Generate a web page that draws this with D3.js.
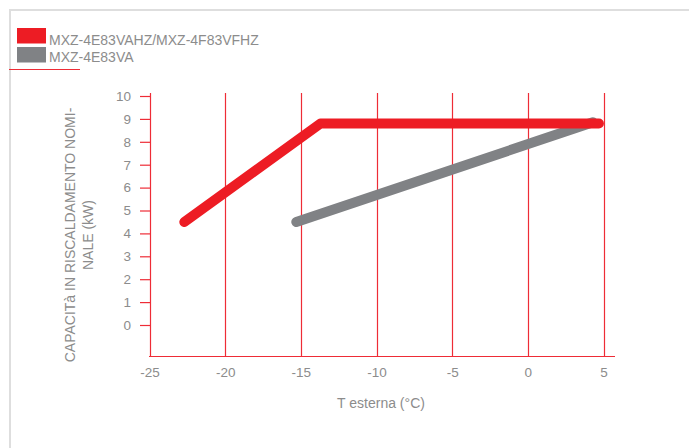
<!DOCTYPE html>
<html>
<head>
<meta charset="utf-8">
<script src="https://cdn.jsdelivr.net/npm/d3@7"></script>
<style>
  body { margin: 0; background: #fff; }
  svg { display: block; font-family: "Liberation Sans", Arial, sans-serif; }
</style>
</head>
<body>
<div id="container"></div>
<script>
/* DATA */
const seriesNames = ["MXZ-4E83VAHZ/MXZ-4F83VFHZ", "MXZ-4E83VA"];
const seriesColors = ["#ed1c24", "#808285"];
const redT = [-22.7, -13.7, 4.7];
const redKW = [4.5, 8.8, 8.8];
const greyT = [-15.3, 4.3];
const greyKW = [4.5, 8.85];
const xTicks = [-25, -20, -15, -10, -5, 0, 5];
const yTicks = [0, 1, 2, 3, 4, 5, 6, 7, 8, 9, 10];

/* CONSTANTS */
const W = 689, H = 448;
const textCol = "#8c8c8c";
const gridCol = "#ee2c36";

const svg = d3.select("#container")
  .append("svg")
  .attr("width", W)
  .attr("height", H);

// frame
svg.append("path")
  .attr("d", "M10,448 V10 H689")
  .attr("fill", "none")
  .attr("stroke", "#dedede")
  .attr("stroke-width", 2);

/* SCALES */
const xScale = d3.scaleLinear().domain([-25, 5]).range([149.5, 603.5]);
const yScale = d3.scaleLinear().domain([0, 10]).range([325, 96]);
const axisY = 356;
const topY = 93;

// vertical grid
svg.append("g")
  .selectAll("line")
  .data(xTicks)
  .join("line")
  .attr("x1", d => Math.round(xScale(d)) + 0.5)
  .attr("x2", d => Math.round(xScale(d)) + 0.5)
  .attr("y1", topY)
  .attr("y2", axisY)
  .attr("stroke", gridCol)
  .attr("stroke-width", 1.2);

// x axis
const xAxis = svg.append("g")
  .attr("transform", `translate(0,${axisY})`)
  .call(d3.axisBottom(xScale).tickValues(xTicks).tickSize(0).tickPadding(11)
    .tickFormat(d => String(d)));
xAxis.select(".domain").remove();
xAxis.append("line")
  .attr("x1", 149).attr("x2", 615).attr("y1", 0.5).attr("y2", 0.5)
  .attr("stroke", gridCol)
  .attr("stroke-width", 1.2);
xAxis.selectAll("text")
  .attr("fill", textCol)
  .style("font-size", "13.5px")
  .style("font-family", "Liberation Sans, Arial, sans-serif");

// y axis
const yAxis = svg.append("g")
  .attr("transform", "translate(150,0)")
  .call(d3.axisLeft(yScale).tickValues(yTicks).tickSize(10).tickPadding(9));
yAxis.select(".domain").remove();
yAxis.selectAll(".tick line").attr("stroke", gridCol).attr("stroke-width", 1.2);
yAxis.selectAll("text")
  .attr("fill", textCol)
  .style("font-size", "13.5px")
  .style("font-family", "Liberation Sans, Arial, sans-serif");

// axis titles
svg.append("text")
  .attr("x", 381)
  .attr("y", 408)
  .attr("text-anchor", "middle")
  .attr("fill", textCol)
  .style("font-size", "14px")
  .text("T esterna (°C)");

const yLab = svg.append("text")
  .attr("transform", "translate(75,235) rotate(-90)")
  .attr("text-anchor", "middle")
  .attr("fill", textCol)
  .style("font-size", "14px");
yLab.append("tspan").attr("x", 0).attr("y", 0).text("CAPACITà IN RISCALDAMENTO NOMI-");
yLab.append("tspan").attr("x", 0).attr("y", 18).text("NALE (kW)");

/* LINES */
const line = d3.line().x(d => xScale(d[0])).y(d => yScale(d[1]));

svg.append("path")
  .datum(greyT.map((t, i) => [t, greyKW[i]]))
  .attr("d", line)
  .attr("fill", "none")
  .attr("stroke", seriesColors[1])
  .attr("stroke-width", 10)
  .attr("stroke-linecap", "round")
  .attr("stroke-linejoin", "round");

svg.append("path")
  .datum(redT.map((t, i) => [t, redKW[i]]))
  .attr("d", line)
  .attr("fill", "none")
  .attr("stroke", seriesColors[0])
  .attr("stroke-width", 10)
  .attr("stroke-linecap", "round")
  .attr("stroke-linejoin", "round");

/* LEGEND */
const legend = svg.append("g");
seriesNames.forEach((name, i) => {
  legend.append("rect")
    .attr("x", 17).attr("y", 28 + i * 19)
    .attr("width", 29).attr("height", 15.5)
    .attr("fill", seriesColors[i]);
  legend.append("text")
    .attr("x", 49).attr("y", 45 + i * 17)
    .attr("fill", textCol)
    .style("font-size", "14px")
    .text(name);
});
legend.append("line")
  .attr("x1", 9).attr("x2", 80).attr("y1", 69.5).attr("y2", 69.5)
  .attr("stroke", gridCol)
  .attr("stroke-width", 1.2);
</script>
</body>
</html>
